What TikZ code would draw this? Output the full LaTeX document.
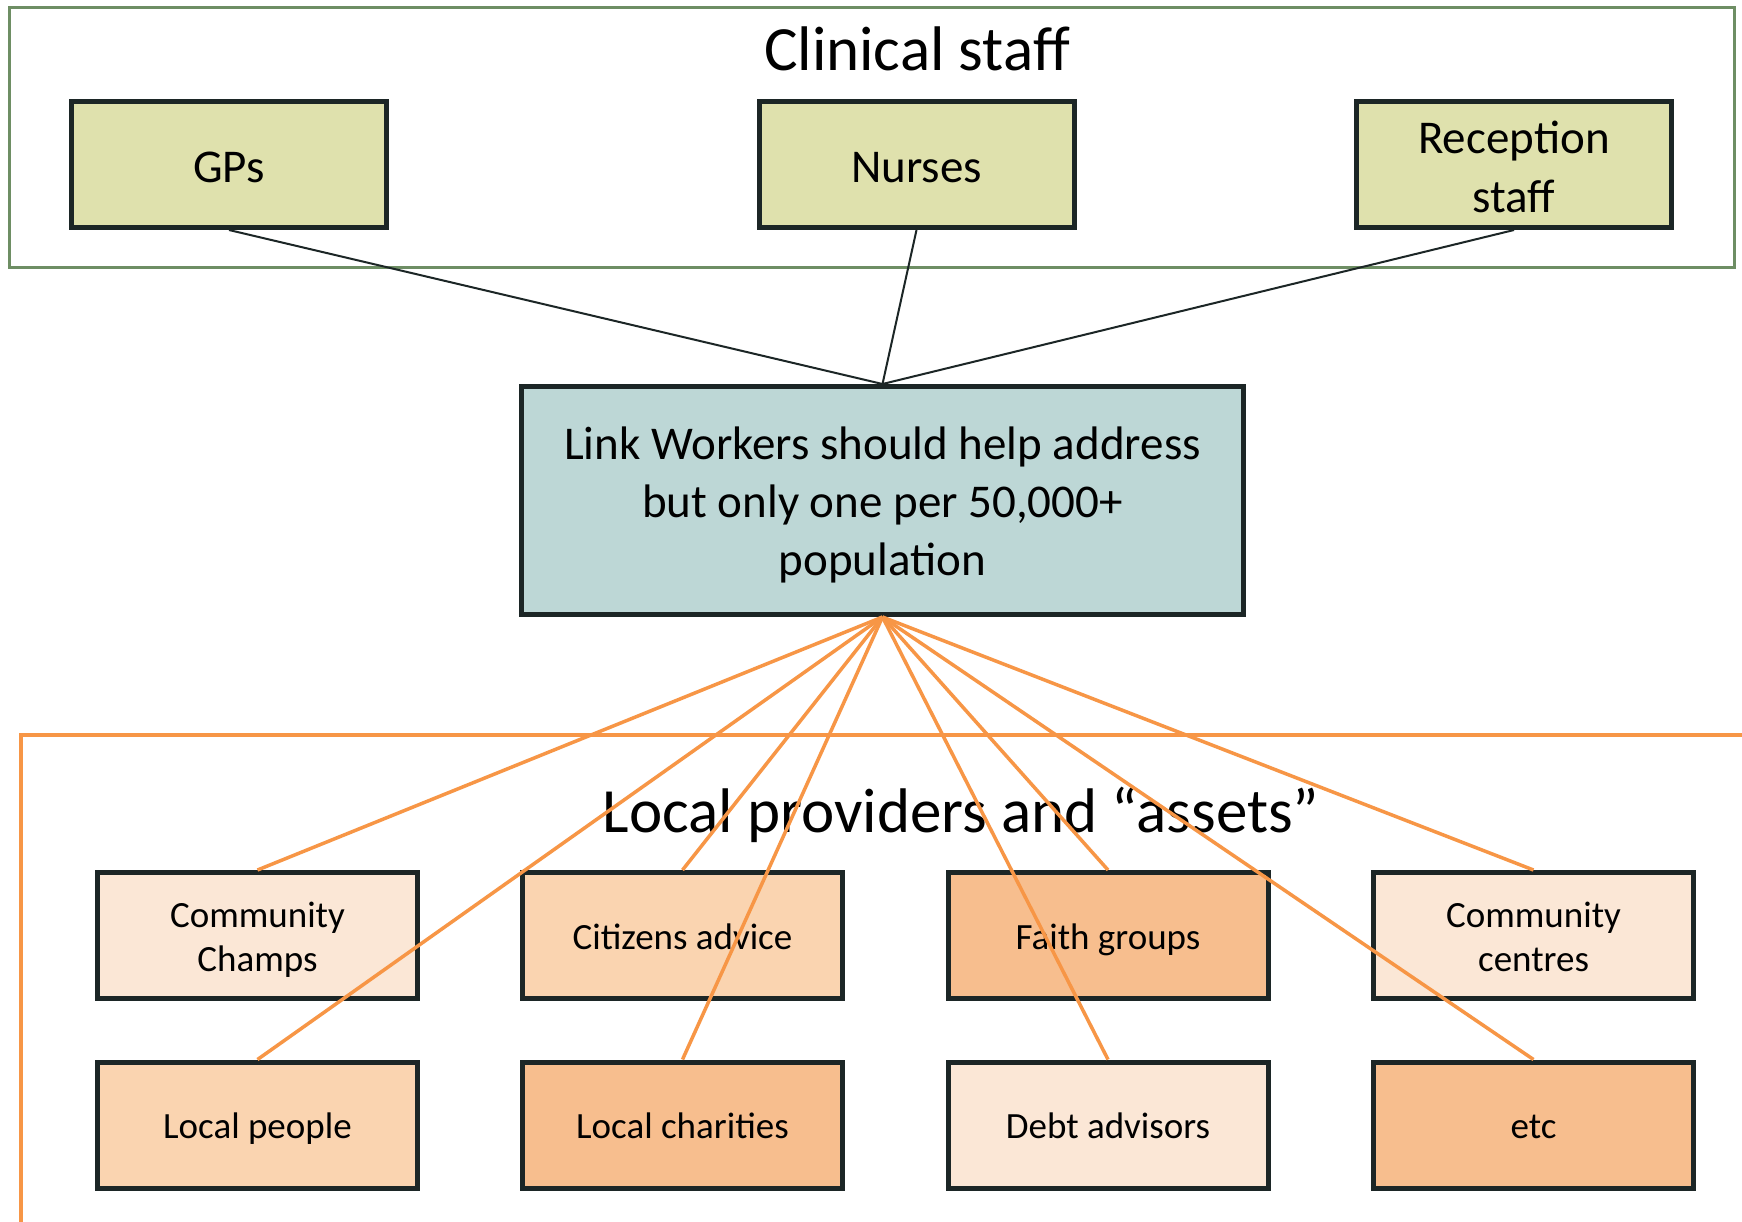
\documentclass[tikz,border=0pt]{standalone}
\usepackage{fontspec}
\setmainfont{Carlito}
\definecolor{frameGreen}{RGB}{110,142,100}
\definecolor{boxDark}{RGB}{28,38,38}
\definecolor{topFill}{RGB}{223,225,173}
\definecolor{linkFill}{RGB}{189,215,214}
\definecolor{orLight}{RGB}{251,231,214}
\definecolor{orMid}{RGB}{250,212,176}
\definecolor{orDark}{RGB}{247,190,142}
\definecolor{orLine}{RGB}{247,150,70}
\newcommand{\lowr}[2]{\raisebox{-#1}[\height][\depth]{\begin{tabular}{@{}c@{}}#2\end{tabular}}}
\begin{document}
\begin{tikzpicture}[x=1pt,y=-1pt,
  topbox/.style={draw=boxDark,line width=5pt,fill=topFill,minimum width=315pt,minimum height=126pt,inner sep=0pt,align=center,font=\fontsize{47}{59}\selectfont},
  linkbox/.style={draw=boxDark,line width=5pt,fill=linkFill,minimum width=722pt,minimum height=228pt,inner sep=0pt,align=center,font=\fontsize{47}{58}\selectfont},
  locbox/.style={draw=boxDark,line width=5pt,minimum width=320pt,minimum height=126pt,inner sep=0pt,align=center,font=\fontsize{37}{44}\selectfont},
  title/.style={font=\fontsize{63}{70}\selectfont,anchor=base},
  darkline/.style={draw=boxDark,line width=2pt},
  orline/.style={draw=orLine,line width=3.5pt}]
\useasboundingbox (0,0) rectangle (1742,1221);
\fill[white] (0,0) rectangle (1742,1221);
% clinical frame
\draw[frameGreen,line width=3pt] (9,7) rectangle (1734,267);
\node[title] (clin) at (917,70) {Clinical staff};
\node[topbox] (gp) at (229,164.5) {\lowr{6.5pt}{GPs}};
\node[topbox] (nur) at (916.5,164.5) {\lowr{6.5pt}{Nurses}};
\node[topbox] (rec) at (1514,164.5) {\lowr{7pt}{Reception\\staff}};
% link box
\node[linkbox] (link) at (882.5,500.5) {\lowr{5pt}{Link Workers should help address\\but only one per 50,000+\\population}};
\draw[darkline] (gp.south) -- (link.north);
\draw[darkline] (nur.south) -- (link.north);
\draw[darkline] (rec.south) -- (link.north);
% local frame
\draw[orLine,line width=3.5pt] (21,1225) -- (21,735) -- (1746,735);
\node[title] (loc) at (961,832) {Local providers and “assets”};
\node[locbox,fill=orLight] (cc) at (257.5,935.5) {\lowr{5.5pt}{Community\\Champs}};
\node[locbox,fill=orMid] (ca) at (682.5,935.5) {\lowr{5pt}{Citizens advice}};
\node[locbox,fill=orDark] (fg) at (1108,935.5) {\lowr{5pt}{Faith groups}};
\node[locbox,fill=orLight] (cen) at (1533.5,935.5) {\lowr{5.5pt}{Community\\centres}};
\node[locbox,fill=orMid] (lp) at (257.5,1125) {\lowr{5pt}{Local people}};
\node[locbox,fill=orDark] (lc) at (682.5,1125) {\lowr{5pt}{Local charities}};
\node[locbox,fill=orLight] (da) at (1108,1125) {\lowr{5pt}{Debt advisors}};
\node[locbox,fill=orDark] (etc) at (1533.5,1125) {\lowr{5pt}{etc}};
\foreach \t in {cc,lp,ca,lc,fg,da,cen,etc}{
  \draw[orline] (link.south) -- (\t.north);
}
\end{tikzpicture}
\end{document}
